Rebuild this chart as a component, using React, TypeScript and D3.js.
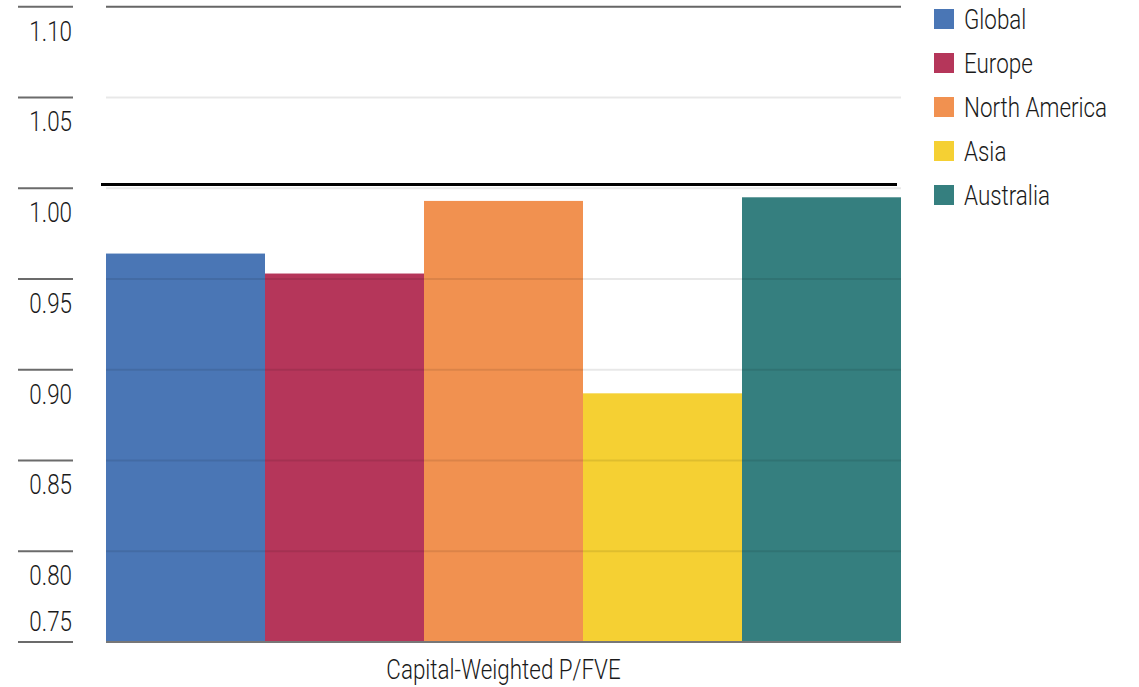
import { useEffect, useRef } from "react";
import * as d3 from "d3";

const regions = ["Global", "Europe", "North America", "Asia", "Australia"];
const values = [0.964, 0.953, 0.993, 0.887, 0.995];
const colors = ["#4a76b5", "#b5365a", "#f19150", "#f5d033", "#357f7f"];
const tickValues = [0.75, 0.8, 0.85, 0.9, 0.95, 1.0, 1.05, 1.1];
const refValue = 1.002;
const categoryLabel = "Capital-Weighted P/FVE";

const FONT = "Roboto, 'Noto Sans', sans-serif";
const SQUEEZE = 0.83;

const App = () => {
  const svgRef = useRef<SVGSVGElement | null>(null);
  const width = 1139;
  const height = 687;

  useEffect(() => {
    const svg = d3.select(svgRef.current);
    svg.selectAll("*").remove();

    // condensed-looking text: squeeze horizontally around its anchor point
    const label = (g, x, y, txt, anchor = "start") =>
      g
        .append("text")
        .attr("transform", `translate(${x},${y}) scale(${SQUEEZE},1)`)
        .attr("text-anchor", anchor)
        .attr("font-family", FONT)
        .attr("font-weight", 300)
        .attr("font-size", 27)
        .attr("fill", "#1a1a1a")
        .text(txt);

    const margin = { top: 6.7, left: 106, right: 238, bottom: 45 };
    const plotRight = width - margin.right;
    const plotBottom = height - margin.bottom;

    const y = d3
      .scaleLinear()
      .domain([0.75, 1.1])
      .range([plotBottom, margin.top]);

    const x = d3
      .scaleBand()
      .domain(regions)
      .range([margin.left, plotRight])
      .padding(0);

    // bars
    svg
      .append("g")
      .selectAll("rect")
      .data(values)
      .enter()
      .append("rect")
      .attr("x", (d, i) => x(regions[i]) as number)
      .attr("y", (d) => y(d))
      .attr("width", x.bandwidth())
      .attr("height", (d) => plotBottom - y(d))
      .attr("fill", (d, i) => colors[i]);

    // gridlines over the bars
    const grid = svg.append("g");
    tickValues.forEach((t, i) => {
      const top = i === tickValues.length - 1;
      const bottom = i === 0;
      grid
        .append("line")
        .attr("x1", margin.left)
        .attr("x2", plotRight)
        .attr("y1", y(t))
        .attr("y2", y(t))
        .attr("stroke", top ? "#666" : bottom ? "#777" : "rgba(0,0,0,0.09)")
        .attr("stroke-width", 2);
    });

    // left tick marks and labels
    const axis = svg.append("g");
    tickValues.forEach((t, i) => {
      axis
        .append("line")
        .attr("x1", 18)
        .attr("x2", 73)
        .attr("y1", y(t))
        .attr("y2", y(t))
        .attr("stroke", "#6b6b6b")
        .attr("stroke-width", 2);
      label(axis, 72, i === 0 ? y(t) - 11 : y(t) + 34, d3.format(".2f")(t), "end");
    });

    // reference line
    svg
      .append("line")
      .attr("x1", margin.left - 5)
      .attr("x2", plotRight - 4)
      .attr("y1", y(refValue))
      .attr("y2", y(refValue))
      .attr("stroke", "#000")
      .attr("stroke-width", 3);

    // category label
    label(svg, (margin.left + plotRight) / 2, 679, categoryLabel, "middle");

    // legend
    const legend = svg.append("g");
    regions.forEach((r, i) => {
      legend
        .append("rect")
        .attr("x", 934)
        .attr("y", 9 + i * 44)
        .attr("width", 20)
        .attr("height", 20)
        .attr("fill", colors[i]);
      label(legend, 964, 29 + i * 44, r);
    });
  }, []);

  return (
    <svg
      ref={svgRef}
      width={width}
      height={height}
      style={{ position: "absolute", left: 0, top: 0, background: "#fff" }}
    ></svg>
  );
};

export default App;
